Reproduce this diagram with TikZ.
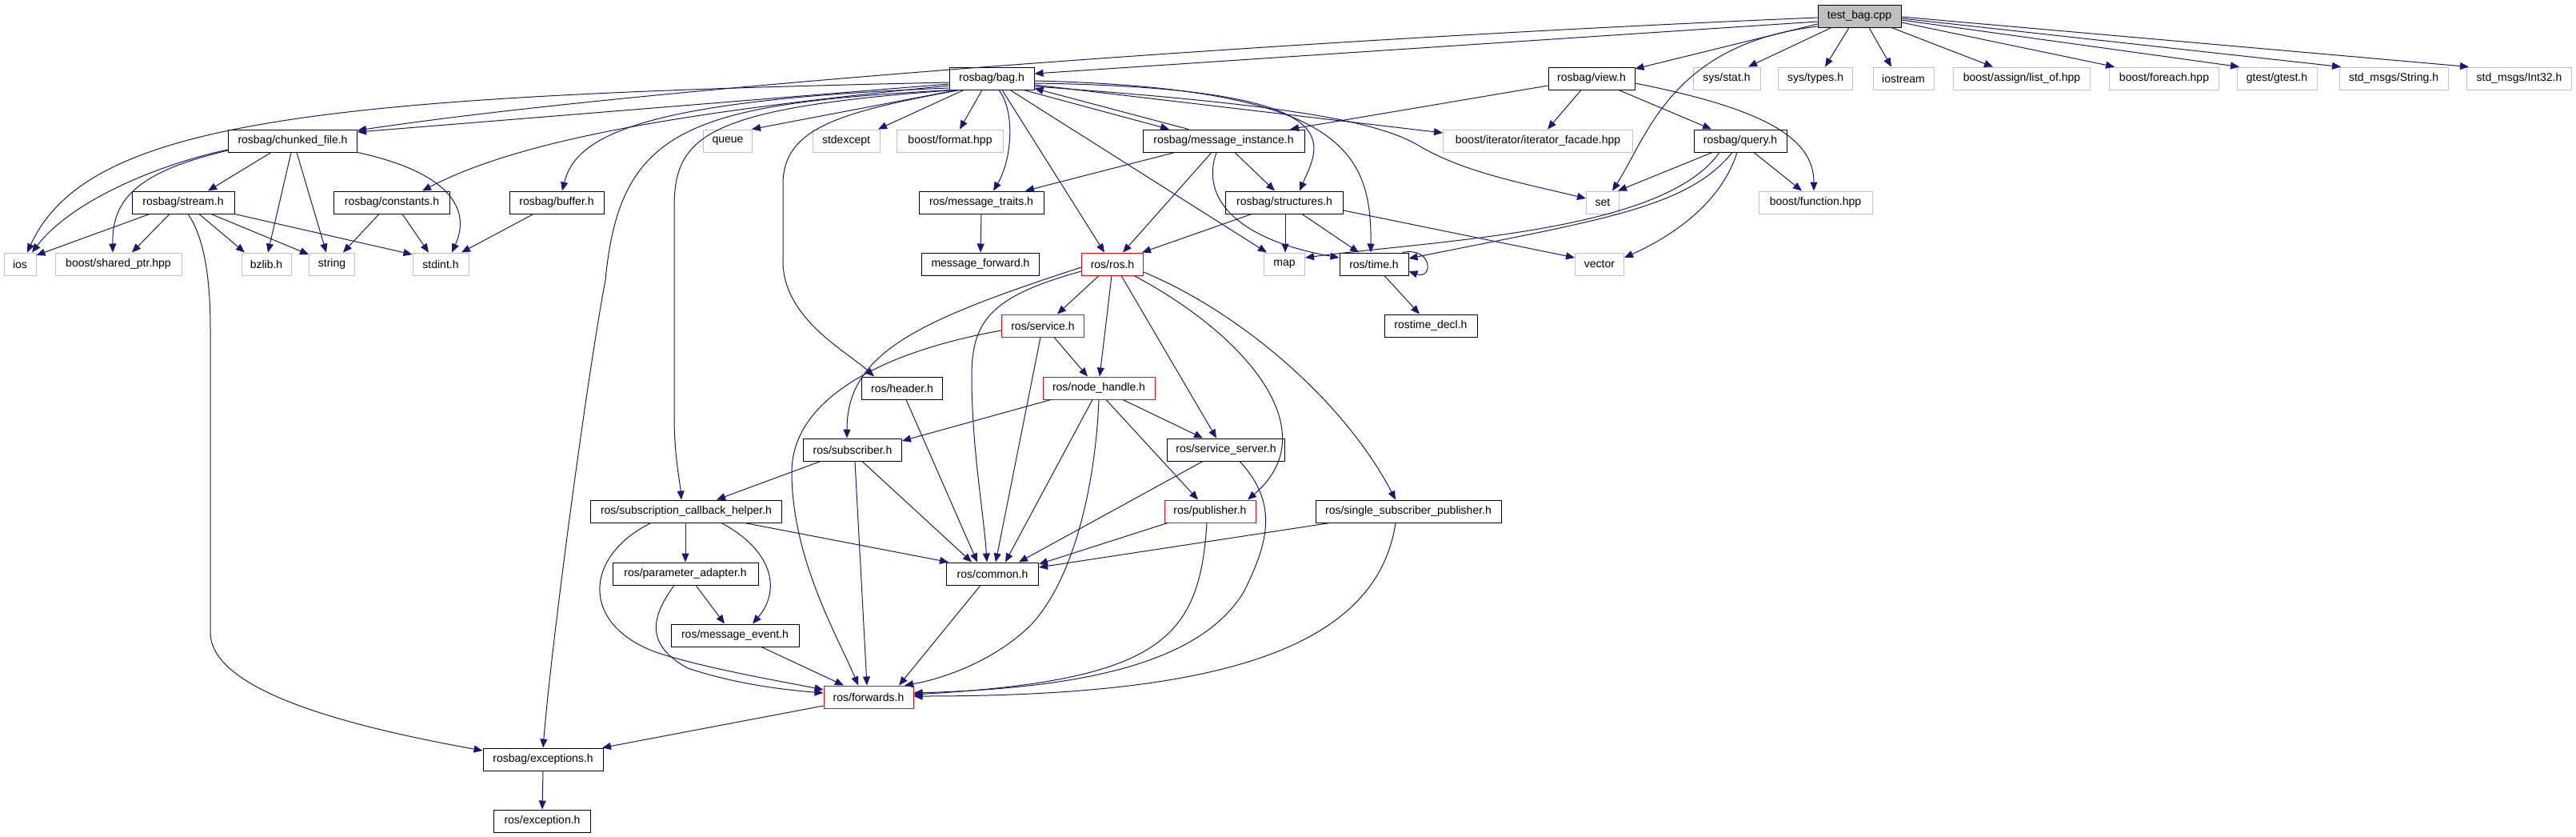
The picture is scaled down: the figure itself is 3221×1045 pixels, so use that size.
\documentclass[tikz,border=0pt]{standalone}
\usepackage{fontspec}
\setmainfont{Liberation Sans}
\usetikzlibrary{arrows.meta}
\definecolor{edgecol}{RGB}{25,25,112}
\definecolor{syscol}{RGB}{191,191,191}
\newcommand\graphfont{\fontsize{14pt}{16pt}\selectfont}
\begin{document}
\begin{tikzpicture}[x=1pt,y=-1pt,
  box/.style={draw=black, line width=1pt, minimum height=28pt, inner sep=0pt, font=\graphfont, text=black, fill=white},
  sys/.style={box, draw=syscol},
  redbox/.style={box, draw=red},
  edge/.style={draw=edgecol, line width=1pt, -{Triangle[length=11pt,width=9pt]}}]
\useasboundingbox[fill=white] (0,0) rectangle (3221,1045);
% row 0
\node[box, fill=syscol, minimum width=104pt] (tb) at (2325,20) {test\_bag.cpp};
% row 1
\node[box, minimum width=106pt] (bag) at (1240,98) {rosbag/bag.h};
\node[box, minimum width=108pt] (view) at (1990,98) {rosbag/view.h};
\node[sys, minimum width=84pt] (sysstat) at (2159,98) {sys/stat.h};
\node[sys, minimum width=93pt] (systypes) at (2270,98) {sys/types.h};
\node[sys, minimum width=76pt] (iostream) at (2380,98) {iostream};
\node[sys, minimum width=171pt] (listof) at (2528,98) {boost/assign/list\_of.hpp};
\node[sys, minimum width=137pt] (foreach) at (2706,98) {boost/foreach.hpp};
\node[sys, minimum width=100pt] (gtest) at (2847,98) {gtest/gtest.h};
\node[sys, minimum width=136pt] (strmsg) at (2993,98) {std\_msgs/String.h};
\node[sys, minimum width=131pt] (intmsg) at (3150,98) {std\_msgs/Int32.h};
% row 2
\node[box, minimum width=161pt] (chunked) at (366,176) {rosbag/chunked\_file.h};
\node[sys, minimum width=61pt] (queue) at (910,176) {queue};
\node[sys, minimum width=84pt] (stdexcept) at (1058,176) {stdexcept};
\node[sys, minimum width=133pt] (format) at (1188,176) {boost/format.hpp};
\node[box, minimum width=202pt] (msginst) at (1530,176) {rosbag/message\_instance.h};
\node[sys, minimum width=237pt] (iterfacade) at (1923,176) {boost/iterator/iterator\_facade.hpp};
\node[box, minimum width=116pt] (query) at (2176,176) {rosbag/query.h};
% row 3
\node[box, minimum width=128pt] (stream) at (229,253) {rosbag/stream.h};
\node[box, minimum width=145pt] (constants) at (490,253) {rosbag/constants.h};
\node[box, minimum width=118pt] (buffer) at (696,253) {rosbag/buffer.h};
\node[box, minimum width=156pt] (msgtraits) at (1227,253) {ros/message\_traits.h};
\node[box, minimum width=147pt] (structures) at (1606,253) {rosbag/structures.h};
\node[sys, minimum width=41pt] (set) at (2004,253) {set};
\node[sys, minimum width=142pt] (function) at (2270,253) {boost/function.hpp};
% row 4
\node[sys, minimum width=40pt] (ios) at (25,330) {ios};
\node[sys, minimum width=158pt] (sharedptr) at (148,330) {boost/shared\_ptr.hpp};
\node[sys, minimum width=62pt] (bzlib) at (333,330) {bzlib.h};
\node[sys, minimum width=57pt] (string) at (415,330) {string};
\node[sys, minimum width=70pt] (stdint) at (551,330) {stdint.h};
\node[box, minimum width=147pt] (msgfwd) at (1226,330) {message\_forward.h};
\node[redbox, minimum width=77pt] (ros) at (1391,330) {ros/ros.h};
\node[sys, minimum width=51pt] (map) at (1606,330) {map};
\node[box, minimum width=86pt] (time) at (1718,330) {ros/time.h};
\node[sys, minimum width=61pt] (vector) at (2000,330) {vector};
% row 5
\node[redbox, minimum width=103pt] (service) at (1304,407) {ros/service.h};
\node[box, minimum width=116pt] (rostimedecl) at (1789,407) {rostime\_decl.h};
% row 6
\node[box, minimum width=101pt] (header) at (1128,485) {ros/header.h};
\node[redbox, minimum width=140pt] (nodehandle) at (1374,485) {ros/node\_handle.h};
% row 7
\node[box, minimum width=123pt] (subscriber) at (1066,562) {ros/subscriber.h};
\node[box, minimum width=147pt] (servserver) at (1533,562) {ros/service\_server.h};
% row 8
\node[box, minimum width=239pt] (subcb) at (858,639) {ros/subscription\_callback\_helper.h};
\node[redbox, minimum width=114pt] (publisher) at (1513,639) {ros/publisher.h};
\node[box, minimum width=232pt] (singlesub) at (1761,639) {ros/single\_subscriber\_publisher.h};
% row 9
\node[box, minimum width=182pt] (paramadapter) at (857,717) {ros/parameter\_adapter.h};
\node[box, minimum width=115pt] (common) at (1241,717) {ros/common.h};
% row 10
\node[box, minimum width=160pt] (msgevent) at (919,794) {ros/message\_event.h};
% row 11
\node[redbox, minimum width=112pt] (forwards) at (1086,871) {ros/forwards.h};
% row 12
\node[box, minimum width=150pt] (exceptions) at (679,949) {rosbag/exceptions.h};
% row 13
\node[box, minimum width=121pt] (exception) at (678,1026) {ros/exception.h};

% ---- edges from test_bag.cpp
\draw[edge] ([yshift=-7pt]tb.west) -- ([yshift=6pt]bag.east);
\draw[edge] ([yshift=-2pt]tb.west) .. controls (1600,50) and (800,110) .. ([yshift=13pt]chunked.east);
\draw[edge] ([yshift=-10pt]tb.west) -- ([yshift=12pt]view.east);
\draw[edge] ([yshift=-13pt]tb.west) .. controls (2090,55) and (2060,170) .. ([xshift=12pt]set.north);
\draw[edge] ([xshift=-35pt]tb.south) -- ([xshift=27pt]sysstat.north);
\draw[edge] ([xshift=-13pt]tb.south) -- ([xshift=12pt]systypes.north);
\draw[edge] ([xshift=12pt]tb.south) -- ([xshift=-15pt]iostream.north);
\draw[edge] ([xshift=40pt]tb.south) -- ([xshift=-36pt]listof.north);
\draw[edge] ([yshift=-8pt]tb.east) -- ([xshift=-62pt]foreach.north);
\draw[edge] ([yshift=-5pt]tb.east) -- ([xshift=-47pt]gtest.north);
\draw[edge] ([yshift=-3pt]tb.east) -- ([xshift=-66pt]strmsg.north);
\draw[edge] ([yshift=-1pt]tb.east) -- ([xshift=-63pt]intmsg.north);

% ---- rosbag/view.h
\draw[edge] ([yshift=-9pt]view.west) -- ([xshift=83pt]msginst.north);
\draw[edge] ([xshift=-13pt]view.south) -- ([xshift=12pt]iterfacade.north);
\draw[edge] ([xshift=34pt]view.south) -- ([xshift=-36pt]query.north);
\draw[edge] ([yshift=-6pt]view.east) .. controls (2200,135) and (2268,170) .. ([xshift=-2pt]function.north);

% ---- rosbag/query.h
\draw[edge] ([xshift=-35pt]query.south) -- ([xshift=19pt]set.north);
\draw[edge] ([xshift=-26pt]query.south) .. controls (2080,290) and (1800,300) .. ([yshift=8pt]map.east);
\draw[edge] ([xshift=-10pt]query.south) .. controls (2110,260) and (2000,275) .. ([yshift=7pt]time.east);
\draw[edge] ([xshift=-4pt]query.south) .. controls (2150,260) and (2080,300) .. ([yshift=8pt]vector.east);
\draw[edge] ([xshift=17pt]query.south) -- ([xshift=-17pt]function.north);

% ---- rosbag/bag.h
\draw[edge] ([yshift=-5pt]bag.west) .. controls (400,120) and (110,150) .. ([xshift=9pt]ios.north);
\draw[edge] ([yshift=-7pt]bag.west) -- ([yshift=11pt]chunked.east);
\draw[edge] ([yshift=-9pt]bag.west) .. controls (850,140) and (650,175) .. ([xshift=38pt]constants.north);
\draw[edge] ([yshift=-12pt]bag.west) .. controls (800,125) and (720,170) .. ([xshift=7pt]buffer.north);
\draw[edge] ([xshift=-50pt]bag.south) .. controls (860,130) and (775,160) .. (757,350) .. controls (735,465) and (690,800) .. (exceptions.north);
\draw[edge] ([xshift=-46pt]bag.south) .. controls (880,135) and (843,170) .. (843,260) -- (843,520) .. controls (843,570) and (850,600) .. ([xshift=-6pt]subcb.north);
\draw[edge] ([xshift=-43pt]bag.south) -- ([xshift=30pt]queue.north);
\draw[edge] ([xshift=-40pt]bag.south) .. controls (1050,140) and (979,160) .. (979,230) -- (979,330) .. controls (982,400) and (1060,440) .. ([xshift=-35pt]header.north);
\draw[edge] ([xshift=-35pt]bag.south) -- ([xshift=40pt]stdexcept.north);
\draw[edge] ([xshift=-12pt]bag.south) -- ([xshift=12pt]format.north);
\draw[edge] ([xshift=9pt]bag.south) .. controls (1270,140) and (1265,200) .. ([xshift=15pt]msgtraits.north);
\draw[edge] ([xshift=13pt]bag.south) -- ([xshift=-10pt]ros.north);
\draw[edge] ([xshift=23pt]bag.south) -- ([xshift=-22pt]map.north);
\draw[edge] ([xshift=40pt]bag.south) -- ([xshift=-68pt]msginst.north);
\draw[edge] ([xshift=-44pt]msginst.north) -- ([yshift=2pt]bag.south east);
\draw[edge] ([yshift=-6pt]bag.east) .. controls (1700,110) and (1650,180) .. ([xshift=19pt]structures.north);
\draw[edge] ([yshift=-3pt]bag.east) .. controls (1680,110) and (1715,190) .. ([xshift=-4pt]time.north);
\draw[edge] ([yshift=-8pt]bag.east) -- ([yshift=10pt]iterfacade.west);
\draw[edge] ([yshift=-10pt]bag.east) .. controls (1600,130) and (1720,150) .. (1774,182) .. controls (1830,215) and (1900,228) .. ([yshift=5pt]set.west);

% ---- rosbag/message_instance.h
\draw[edge] ([xshift=-61pt]msginst.south) -- ([xshift=55pt]msgtraits.north);
\draw[edge] ([xshift=-15pt]msginst.south) -- ([xshift=13pt]ros.north);
\draw[edge] ([xshift=-9pt]msginst.south) .. controls (1500,250) and (1550,300) .. ([yshift=8pt]time.west);
\draw[edge] ([xshift=14pt]msginst.south) -- ([xshift=-12pt]structures.north);

% ---- rosbag/structures.h
\draw[edge] ([xshift=-41pt]structures.south) -- ([xshift=37pt]ros.north);
\draw[edge] ([xshift=1pt]structures.south) -- ([xshift=1pt]map.north);
\draw[edge] ([xshift=22pt]structures.south) -- ([xshift=-19pt]time.north);
\draw[edge] ([yshift=-10pt]structures.east) -- ([yshift=8pt]vector.west);

% ---- misc
\draw[edge] (msgtraits.south) -- (msgfwd.north);
\draw[edge] ([xshift=13pt]time.south) -- ([xshift=-14pt]rostimedecl.north);
\draw[edge] ([xshift=-8pt]time.north east) .. controls (1792,308) and (1792,350) .. ([yshift=-9pt]time.east);

% ---- ros/ros.h
\draw[edge] ([xshift=-17pt]ros.south) -- ([xshift=18pt]service.north);
\draw[edge] ([xshift=-1pt]ros.south) -- ([xshift=1pt]nodehandle.north);
\draw[edge] ([xshift=11pt]ros.south) -- ([xshift=-12pt]servserver.north);
\draw[edge] ([xshift=27pt]ros.south) .. controls (1560,420) and (1660,540) .. ([xshift=47pt]publisher.north);
\draw[edge] ([yshift=-10pt]ros.east) .. controls (1550,390) and (1680,500) .. ([xshift=-16pt]singlesub.north);
\draw[edge] ([yshift=-9pt]ros.west) .. controls (1240,370) and (1215,400) .. (1215,470) .. controls (1215,560) and (1230,640) .. ([xshift=-7pt]common.north);
\draw[edge] ([yshift=-4pt]ros.west) .. controls (1150,400) and (1059,440) .. ([xshift=-7pt]subscriber.north);

% ---- ros/service.h
\draw[edge] ([xshift=14pt]service.south) -- ([xshift=-14pt]nodehandle.north);
\draw[edge] ([xshift=-3pt]service.south) -- ([xshift=4pt]common.north);
\draw[edge] ([yshift=-6pt]service.west) .. controls (1100,440) and (990,500) .. (990,590) .. controls (990,700) and (1050,800) .. ([xshift=-13pt]forwards.north);

% ---- ros/node_handle.h
\draw[edge] ([xshift=-60pt]nodehandle.south) -- ([yshift=11pt]subscriber.east);
\draw[edge] ([xshift=30pt]nodehandle.south) -- ([xshift=-29pt]servserver.north);
\draw[edge] ([xshift=9pt]nodehandle.south) -- ([xshift=-15pt]publisher.north);
\draw[edge] ([xshift=-8pt]nodehandle.south) -- ([xshift=16pt]common.north);
\draw[edge] (nodehandle.south) .. controls (1370,600) and (1345,720) .. (1290,780) .. controls (1240,830) and (1170,850) .. ([xshift=45pt]forwards.north);

% ---- ros/header.h
\draw[edge] ([xshift=5pt]header.south) -- ([xshift=-19pt]common.north);

% ---- ros/subscriber.h
\draw[edge] ([xshift=-40pt]subscriber.south) -- ([xshift=38pt]subcb.north);
\draw[edge] ([xshift=12pt]subscriber.south) -- ([xshift=-26pt]common.north);
\draw[edge] ([xshift=3pt]subscriber.south) -- ([xshift=-2pt]forwards.north);

% ---- ros/service_server.h
\draw[edge] ([xshift=-29pt]servserver.south) -- ([xshift=33pt]common.north);
\draw[edge] ([xshift=17pt]servserver.south) .. controls (1600,630) and (1585,680) .. (1555,740) .. controls (1500,830) and (1350,860) .. ([yshift=5pt]forwards.east);

% ---- ros/publisher.h
\draw[edge] ([xshift=-53pt]publisher.south) -- ([yshift=12pt]common.east);
\draw[edge] ([xshift=-4pt]publisher.south) .. controls (1500,800) and (1450,850) .. ([yshift=3pt]forwards.east);

% ---- ros/single_subscriber_publisher.h
\draw[edge] ([xshift=-98pt]singlesub.south) -- ([yshift=8pt]common.east);
\draw[edge] ([xshift=-16pt]singlesub.south) .. controls (1720,820) and (1500,870) .. ([yshift=1pt]forwards.east);

% ---- ros/subscription_callback_helper.h
\draw[edge] ([xshift=-1pt]subcb.south) -- (paramadapter.north);
\draw[edge] ([xshift=44pt]subcb.south) .. controls (970,690) and (975,740) .. ([xshift=22pt]msgevent.north);
\draw[edge] ([xshift=-44pt]subcb.south) .. controls (730,695) and (725,780) .. (820,815) .. controls (880,835) and (980,852) .. ([yshift=9pt]forwards.west);
\draw[edge] ([xshift=73pt]subcb.south) -- ([xshift=-55pt]common.north);

% ---- ros/parameter_adapter.h
\draw[edge] ([xshift=13pt]paramadapter.south) -- ([xshift=-13pt]msgevent.north);
\draw[edge] ([xshift=-14pt]paramadapter.south) .. controls (815,770) and (805,805) .. (860,835) .. controls (920,855) and (980,862) .. ([yshift=5pt]forwards.west);

% ---- ros/message_event.h, forwards, exceptions
\draw[edge] ([xshift=33pt]msgevent.south) -- ([xshift=-31pt]forwards.north);
\draw[edge] ([xshift=-15pt]common.south) -- ([xshift=38pt]forwards.north);
\draw[edge] ([yshift=-11pt]forwards.west) -- ([xshift=74pt]exceptions.north);
\draw[edge] (exceptions.south) -- (exception.north);

% ---- rosbag/stream.h
\draw[edge] ([xshift=6pt]stream.south) .. controls (258,300) and (263,360) .. (263,410) -- (263,790) .. controls (263,860) and (420,905) .. ([yshift=11pt]exceptions.west);
\draw[edge] ([xshift=-42pt]stream.south) -- ([yshift=11pt]ios.east);
\draw[edge] ([xshift=-17pt]stream.south) -- ([xshift=17pt]sharedptr.north);
\draw[edge] ([xshift=20pt]stream.south) -- ([xshift=-27pt]bzlib.north);
\draw[edge] ([xshift=35pt]stream.south) -- ([yshift=12pt]string.west);
\draw[edge] (stream.south east) -- ([yshift=12pt]stdint.west);

% ---- rosbag/chunked_file.h
\draw[edge] ([yshift=-11pt]chunked.west) .. controls (200,205) and (90,250) .. ([xshift=15pt]ios.north);
\draw[edge] ([yshift=-12pt]chunked.west) .. controls (170,215) and (140,250) .. ([xshift=-7pt]sharedptr.north);
\draw[edge] ([xshift=-27pt]chunked.south) -- ([xshift=31pt]stream.north);
\draw[edge] ([xshift=-2pt]chunked.south) -- ([xshift=2pt]bzlib.north);
\draw[edge] ([xshift=5pt]chunked.south) -- ([xshift=-7pt]string.north);
\draw[edge] (chunked.south east) .. controls (560,215) and (590,260) .. ([xshift=14pt]stdint.north);

% ---- rosbag/constants.h, rosbag/buffer.h
\draw[edge] ([xshift=-16pt]constants.south) -- ([xshift=14pt]string.north);
\draw[edge] ([xshift=13pt]constants.south) -- ([xshift=-15pt]stdint.north);
\draw[edge] ([xshift=-29pt]buffer.south) -- ([xshift=26pt]stdint.north);
\end{tikzpicture}
\end{document}
